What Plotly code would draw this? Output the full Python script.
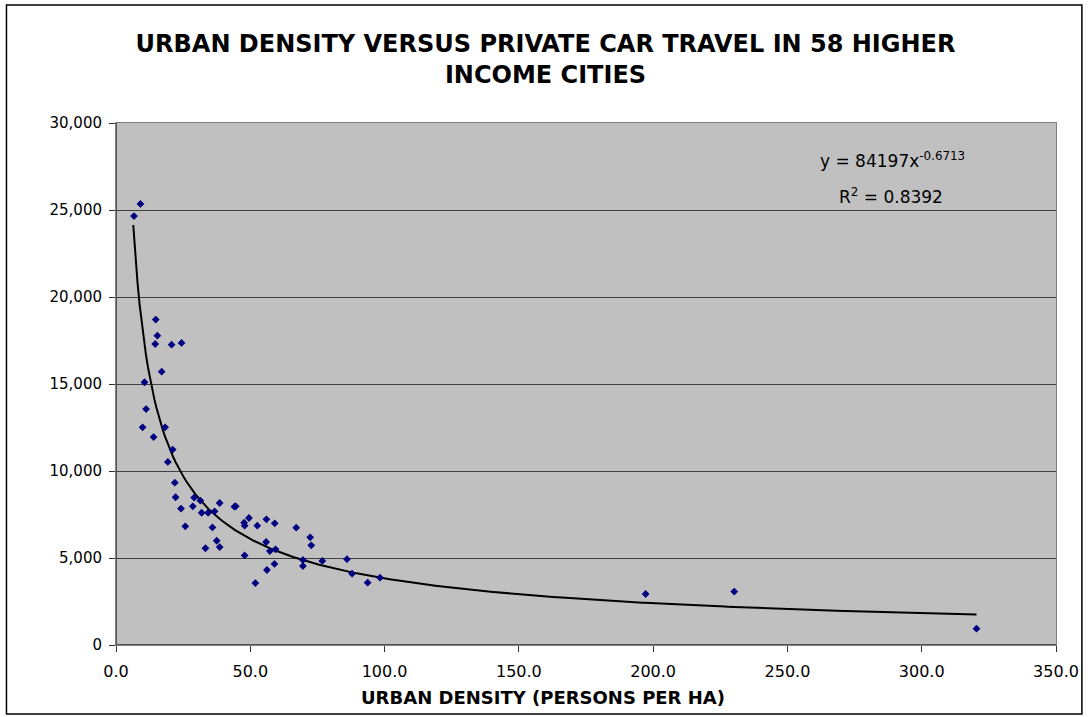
import numpy as np
import plotly.graph_objects as go

# Data: urban density (persons/ha) vs private car travel
density = [6.7, 9.1, 14.8, 15.4, 14.6, 20.7, 24.4, 17.0, 10.6, 11.2,
           9.9, 18.3, 14.0, 21.1, 19.3, 21.9, 22.2, 24.2, 25.8, 29.1,
           31.4, 28.6, 31.9, 34.3, 36.7, 38.6, 35.9, 37.5, 38.6, 33.3,
           44.1, 44.6, 47.7, 47.9, 49.5, 52.6, 56.0, 59.1, 47.9, 51.9,
           55.9, 57.3, 59.4, 56.2, 59.0, 67.1, 72.3, 72.7, 69.6, 69.6,
           76.8, 86.0, 87.9, 93.7, 98.3, 197.2, 230.2, 320.4]
car_travel = [24650, 25350, 18700, 17780, 17300, 17260, 17360, 15710, 15100, 13560,
              12510, 12510, 11950, 11230, 10520, 9330, 8490, 7840, 6820, 8470,
              8300, 7970, 7600, 7600, 7680, 8160, 6760, 5990, 5630, 5560,
              7950, 7970, 7030, 6860, 7300, 6860, 7220, 6990, 5150, 3560,
              5920, 5400, 5500, 4310, 4660, 6740, 6190, 5730, 4890, 4540,
              4830, 4930, 4100, 3580, 3870, 2930, 3070, 940]

# Power trendline as stated on the chart
TREND_A = 84197
TREND_B = -0.6713
R_SQUARED = 0.8392

title_text = "URBAN DENSITY VERSUS PRIVATE CAR TRAVEL IN 58 HIGHER<br>INCOME CITIES"
x_title = "URBAN DENSITY (PERSONS PER HA)"
x_ticks = [0, 50, 100, 150, 200, 250, 300, 350]
y_ticks = [0, 5000, 10000, 15000, 20000, 25000, 30000]

xs = np.linspace(min(density) * 0.96, max(density), 400)
ys = TREND_A * xs ** TREND_B

W, H = 1091, 717
L, R, T, B = 116, 31, 123, 72
PW, PH = W - L - R, H - T - B

fig = go.Figure()
fig.add_trace(go.Scatter(x=xs, y=ys, mode="lines",
                         line=dict(color="black", width=2), hoverinfo="skip",
                         showlegend=False))
fig.add_trace(go.Scatter(x=density, y=car_travel, mode="markers",
                         marker=dict(symbol="diamond", size=6, color="#000080",
                                     line=dict(width=0)),
                         showlegend=False))

font_main = "DejaVu Sans, Verdana, sans-serif"

fig.update_layout(
    width=W, height=H,
    margin=dict(l=L, r=R, t=T, b=B),
    paper_bgcolor="white",
    plot_bgcolor="#C0C0C0",
    font=dict(family=font_main, size=15, color="black"),
    title=dict(text="<b>" + title_text + "</b>", x=0.5, xanchor="center",
               xref="container", yref="container",
               y=1 - 52 / H, yanchor="middle",
               font=dict(family=font_main, size=24, color="black")),
    xaxis=dict(range=[0, 350], tickvals=x_ticks, tickformat=".1f",
               showgrid=False, zeroline=False,
               showline=True, linecolor="#808080", linewidth=1, mirror=True,
               ticks="outside", ticklen=6, tickcolor="#303030",
               ticklabelstandoff=6,
               tickfont=dict(size=16)),
    yaxis=dict(range=[0, 30000], tickvals=y_ticks, tickformat=",d",
               showgrid=True, gridcolor="#404040", gridwidth=1,
               zeroline=False,
               showline=True, linecolor="#808080", linewidth=1, mirror=True,
               ticks="outside", ticklen=6, tickcolor="#303030",
               ticklabelstandoff=4,
               tickfont=dict(size=15)),
    shapes=[
        dict(type="line", xref="x", yref="y", x0=0, x1=0, y0=0, y1=30000,
             line=dict(color="#303030", width=1.5)),
        dict(type="line", xref="x", yref="y", x0=0, x1=350, y0=0, y1=0,
             line=dict(color="#303030", width=1.5)),
        dict(type="rect", xref="paper", yref="paper",
             x0=(6 - L) / PW, x1=(1086 - L) / PW,
             y0=(T + PH - 714) / PH, y1=(T + PH - 5) / PH,
             line=dict(color="black", width=1.5), fillcolor="rgba(0,0,0,0)",
             layer="below"),
    ],
    annotations=[
        dict(xref="paper", yref="paper", x=(545 - L) / PW, y=(T + PH - 697) / PH,
             text="<b>" + x_title + "</b>", showarrow=False,
             font=dict(size=18, color="black"),
             xanchor="center", yanchor="middle"),
        dict(xref="x", yref="y", x=289, y=27850,
             text="y = %dx<sup>%.4f</sup>" % (TREND_A, TREND_B),
             showarrow=False, font=dict(size=17, color="black"),
             xanchor="center", yanchor="middle"),
        dict(xref="x", yref="y", x=288.5, y=25800,
             text="R<sup>2</sup> = %.4f" % R_SQUARED,
             showarrow=False, font=dict(size=17, color="black"),
             xanchor="center", yanchor="middle"),
    ],
)

fig.write_html("out.html", config={"displayModeBar": False},
               post_script="document.body.style.margin='0px';")
